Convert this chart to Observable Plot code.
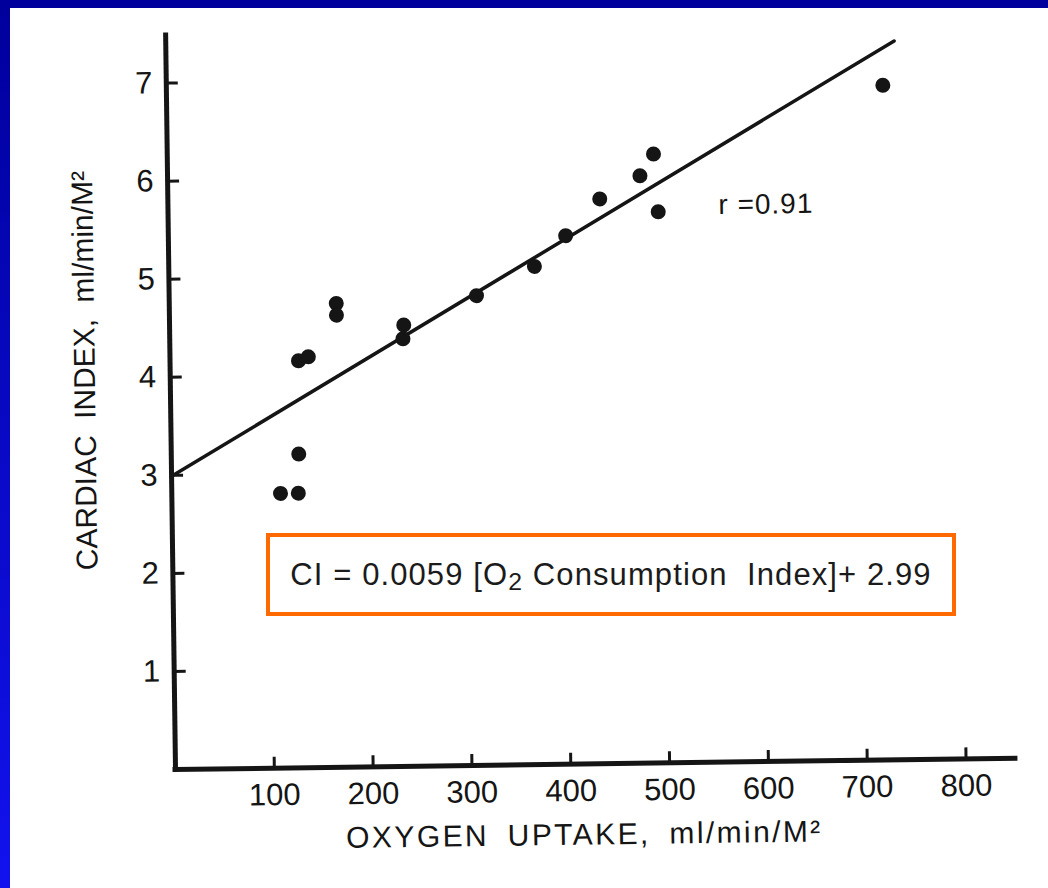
<!DOCTYPE html>
<html><head><meta charset="utf-8">
<script src="https://cdn.jsdelivr.net/npm/d3@7"></script>
<script src="https://cdn.jsdelivr.net/npm/@observablehq/plot@0.6"></script>
<style>
html,body{margin:0;padding:0;}
body{width:1048px;height:888px;overflow:hidden;position:relative;background:linear-gradient(#00009c,#1212ee);font-family:"Liberation Sans",Arial,sans-serif;}
#panel{position:absolute;left:10px;top:8px;right:0;bottom:0;background:#fff;}
#chart{position:absolute;left:0;top:0;}
#eq{position:absolute;left:266px;top:533px;width:690px;height:83px;box-sizing:border-box;border:4px solid #ff6a00;display:flex;align-items:center;justify-content:center;font-size:31px;letter-spacing:1.1px;color:#1b1b1b;white-space:pre;}
#eq .sub{font-size:0.8em;position:relative;top:0.32em;}
</style></head>
<body>
<div id="panel"></div>
<div id="chart"></div>
<div id="eq">CI = 0.0059 [O<span class="sub">2</span> Consumption  Index]+ 2.99</div>
<script>
// Oxygen uptake (ml/min/M²) and cardiac index (ml/min/M²)
const oxygenUptake = [110, 128, 129, 130, 140, 169, 169, 237, 236, 311, 370, 402, 437, 478, 492, 496, 725];
const cardiacIndex = [2.80, 2.80, 3.20, 4.15, 4.19, 4.73, 4.61, 4.50, 4.36, 4.79, 5.08, 5.39, 5.76, 5.99, 6.21, 5.62, 6.88];
// Regression line CI = 0.0059 x + 2.99, endpoints
const fitX = [0, 737];
const fitY = [2.99, 7.33];
// Axis ticks
const xTicks = [100, 200, 300, 400, 500, 600, 700, 800];
const yTicks = [1, 2, 3, 4, 5, 6, 7];
const xDomain = [0, 850];
const yDomain = [0, 7.485];
// Annotation
const rLabel = ["r =0.91"];
const rAt = {x: 557, y: 5.68};
const xTitle = "OXYGEN UPTAKE, ml/min/M\u00b2";
const yTitle = "CARDIAC INDEX, ml/min/M\u00b2";

const points = oxygenUptake.map((x, i) => ({x, y: cardiacIndex[i]}));
const fit = fitX.map((x, i) => ({x, y: fitY[i]}));
const ink = "#151515";

const chart = Plot.plot({
  width: 1048,
  height: 888,
  marginLeft: 175,
  marginRight: 33,
  marginTop: 35,
  marginBottom: 119,
  x: {domain: xDomain},
  y: {domain: yDomain},
  style: {background: "transparent", fontFamily: "'Liberation Sans', Arial, sans-serif", color: ink, overflow: "visible"},
  marks: [
    Plot.ruleY([0], {stroke: ink, strokeWidth: 5, strokeLinecap: "square"}),
    Plot.ruleX([0], {stroke: ink, strokeWidth: 5, strokeLinecap: "square"}),
    Plot.axisX(xTicks, {tickSize: 11, dy: -11, strokeWidth: 3, stroke: ink, fill: "none", label: null}),
    Plot.axisX(xTicks, {tickSize: 0, tickPadding: 15, fontSize: 31, fill: ink, label: null, tickFormat: d => String(d)}),
    Plot.axisY(yTicks, {tickSize: 12, dx: 12, strokeWidth: 3, stroke: ink, fill: "none", label: null}),
    Plot.axisY(yTicks, {tickSize: 0, tickPadding: 14, fontSize: 31, fill: ink, label: null, tickFormat: d => String(d)}),
    Plot.line(fit, {x: "x", y: "y", stroke: ink, strokeWidth: 3.5}),
    Plot.dot(points, {x: "x", y: "y", r: 7.5, fill: ink, stroke: "none"}),
    Plot.text(rLabel, {x: () => rAt.x, y: () => rAt.y, text: d => d, textAnchor: "start", lineAnchor: "middle", fontSize: 28, fill: ink}),
    Plot.text([xTitle], {frameAnchor: "bottom", textAnchor: "middle", lineAnchor: "middle", dy: 71, dx: -12, text: d => d, fontSize: 30, fill: ink}),
    Plot.text([yTitle], {frameAnchor: "left", rotate: -90, textAnchor: "middle", lineAnchor: "middle", dx: -85, dy: -33, text: d => d, fontSize: 30, fill: ink})
  ]
});
chart.style.transformOrigin = "175px 769px";
chart.style.transform = "rotate(-0.77deg)";
document.getElementById("chart").appendChild(chart);
const texts = d3.select(chart).selectAll("text");
texts.filter(function() { return this.textContent === xTitle; }).style("letter-spacing", "2.4px").style("word-spacing", "8px");
texts.filter(function() { return this.textContent === yTitle; }).style("word-spacing", "8px");
texts.filter(function() { return this.textContent === rLabel[0]; }).style("letter-spacing", "1px");
</script>
</body></html>
